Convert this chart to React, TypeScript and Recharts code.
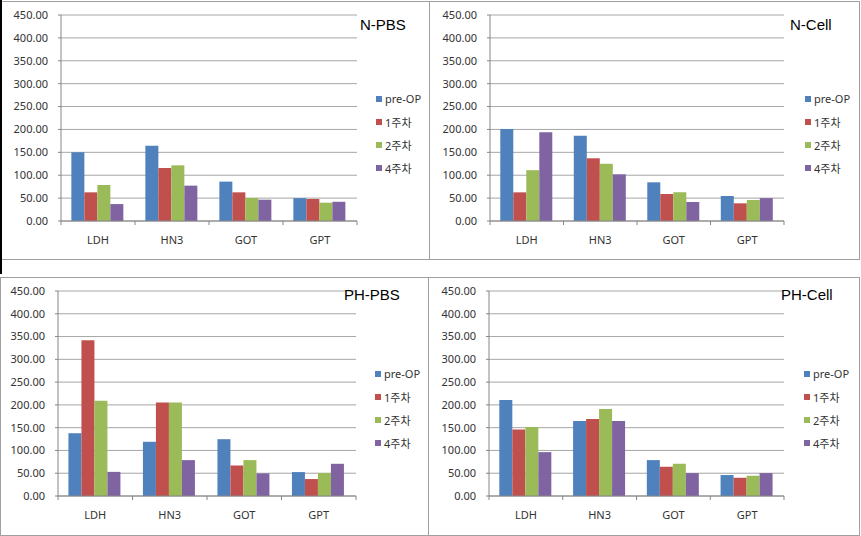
import React from "react";
import { Bar, BarChart, CartesianGrid, Legend, XAxis, YAxis } from "recharts";

const CATEGORIES = ["LDH", "HN3", "GOT", "GPT"];
const SERIES_NAMES = ["pre-OP", "1주차", "2주차", "4주차"];
const SERIES_COLORS = ["#4F81BD", "#C0504D", "#9BBB59", "#8064A2"];
const Y_TICKS = [0, 50, 100, 150, 200, 250, 300, 350, 400, 450];

// one row per series, one value per category
const N_PBS = [
  [150, 164.6, 86, 50],
  [62.6, 115.8, 62.6, 48],
  [78.6, 121.6, 50, 40],
  [37, 77.2, 46.6, 42],
];
const N_CELL = [
  [201, 186.4, 84.5, 54.6],
  [62.6, 137, 59, 38.6],
  [111, 125, 62.6, 45.9],
  [193.7, 102, 41.5, 50],
];
const PH_PBS = [
  [137.8, 119, 124.7, 52.5],
  [342, 205, 67, 37.2],
  [209, 205, 78.8, 50.3],
  [53, 78.8, 49.6, 70.7],
];
const PH_CELL = [
  [210.8, 164.8, 78.8, 46],
  [145.9, 169.2, 64.2, 40],
  [151.7, 191, 70.7, 44.5],
  [96.3, 164.8, 50.3, 50.3],
];

const FONT = "'Noto Sans', 'Noto Sans CJK KR', sans-serif";
const AXIS = "#868686";
const GRID = "#a6a6a6";
const XH = 30;

const PANELS = [
  { title: "N-PBS", values: N_PBS, box: { x: 0, y: 1, w: 430, h: 259 }, plot: { l: 61, t: 15, r: 357, b: 221 }, legend: { x: 376, y: 87 }, titleAt: { x: 360, y: 16 } },
  { title: "N-Cell", values: N_CELL, box: { x: 429, y: 1, w: 431, h: 259 }, plot: { l: 490, t: 15, r: 784, b: 221 }, legend: { x: 805, y: 87 }, titleAt: { x: 790, y: 16 } },
  { title: "PH-PBS", values: PH_PBS, box: { x: 0, y: 277, w: 429, h: 259 }, plot: { l: 58, t: 291, r: 356, b: 496 }, legend: { x: 375, y: 362 }, titleAt: { x: 344, y: 286 } },
  { title: "PH-Cell", values: PH_CELL, box: { x: 428, y: 277, w: 432, h: 259 }, plot: { l: 489, t: 291, r: 784, b: 496 }, legend: { x: 804, y: 362 }, titleAt: { x: 781, y: 286 } },
];

function CategoryTick(props: any) {
  const { x, y, payload, index, band } = props;
  const left = x - band / 2;
  return (
    <g>
      <line x1={left} y1={y} x2={left} y2={y + 4} stroke={AXIS} />
      {index === CATEGORIES.length - 1 && <line x1={x + band / 2} y1={y} x2={x + band / 2} y2={y + 4} stroke={AXIS} />}
      <text x={x} y={y + 23} textAnchor="middle" fontSize={11} fill="#333" fontFamily={FONT}>
        {payload.value}
      </text>
    </g>
  );
}

function LegendBox() {
  return (
    <div style={{ fontFamily: FONT, fontSize: 11, color: "#333" }}>
      {SERIES_NAMES.map((name, i) => (
        <div key={name} style={{ height: 23, display: "flex", alignItems: "center", whiteSpace: "nowrap" }}>
          <span style={{ display: "inline-block", width: 6, height: 6, background: SERIES_COLORS[i], marginRight: 3 }} />
          {name}
        </div>
      ))}
    </div>
  );
}

function Panel({ p }: { p: (typeof PANELS)[number] }) {
  const { box, plot } = p;
  const rows = CATEGORIES.map((name, i) => {
    const row: Record<string, string | number> = { name };
    p.values.forEach((s, k) => (row["s" + k] = s[i]));
    return row;
  });
  const band = (plot.r - plot.l) / CATEGORIES.length;
  return (
    <>
      <div style={{ position: "absolute", left: box.x, top: box.y, width: box.w, height: box.h, border: "1px solid #a0a0a0", boxSizing: "border-box" }} />
      <div style={{ position: "absolute", left: box.x, top: box.y }}>
        <BarChart
          width={box.w}
          height={box.h}
          data={rows}
          margin={{ top: plot.t - box.y, right: box.x + box.w - plot.r, bottom: box.y + box.h - plot.b - XH, left: 0 }}
          barGap={0}
          barCategoryGap="14%"
        >
          <CartesianGrid vertical={false} stroke={GRID} />
          <XAxis
            dataKey="name"
            height={XH}
            interval={0}
            tickLine={false}
            tickSize={0}
            tickMargin={0}
            axisLine={{ stroke: AXIS }}
            tick={(props: any) => <CategoryTick {...props} band={band} />}
          />
          <YAxis
            width={plot.l - box.x}
            domain={[0, 450]}
            ticks={Y_TICKS}
            interval={0}
            tickFormatter={(v: number) => v.toFixed(2)}
            tickSize={3}
            tickMargin={10}
            axisLine={{ stroke: AXIS }}
            tickLine={{ stroke: AXIS }}
            tick={{ fontSize: 11, fill: "#333", fontFamily: FONT }}
          />
          {SERIES_NAMES.map((name, k) => (
            <Bar key={name} dataKey={"s" + k} name={name} fill={SERIES_COLORS[k]} isAnimationActive={false} />
          ))}
          <Legend
            layout="vertical"
            align="center"
            verticalAlign="middle"
            content={() => <LegendBox />}
            wrapperStyle={{ left: p.legend.x - box.x, top: p.legend.y - box.y, width: 60, height: "auto" }}
          />
        </BarChart>
      </div>
      <div
        style={{
          position: "absolute",
          left: p.titleAt.x,
          top: p.titleAt.y,
          fontFamily: "'Liberation Sans', Arial, sans-serif",
          fontSize: 15,
          color: "#000",
          lineHeight: "18px",
        }}
      >
        {p.title}
      </div>
    </>
  );
}

export default function App() {
  return (
    <div style={{ position: "absolute", left: 0, top: 0, width: 861, height: 536, background: "#fff", overflow: "hidden" }}>
      {PANELS.map((p) => (
        <Panel key={p.title} p={p} />
      ))}
      <div style={{ position: "absolute", left: 0, top: 0, width: 2, height: 274, background: "#000" }} />
    </div>
  );
}
